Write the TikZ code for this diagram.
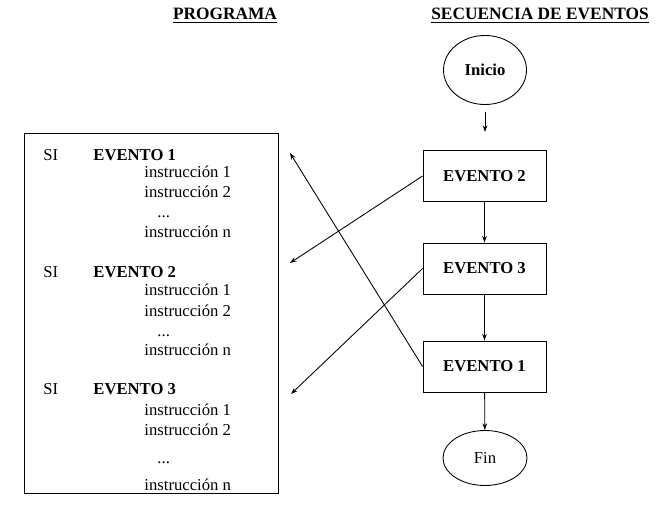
\documentclass[tikz,border=0pt]{standalone}
\usepackage{fontspec}
\setmainfont{Liberation Serif}
\usetikzlibrary{arrows.meta, shapes.geometric}

\begin{document}
\begin{tikzpicture}[x=0.75pt, y=-0.75pt, line width=0.65pt,
    >={Stealth[length=5pt, width=3.5pt]},
    font=\fontsize{12.5}{14}\selectfont,
    evento/.style={rectangle, draw, minimum width=92.25pt, minimum height=38.25pt, font=\fontsize{12.5}{14}\selectfont\bfseries},
    extremo/.style={ellipse, draw, inner sep=0pt},
    linea/.style={anchor=base west, inner sep=0pt}]
  \useasboundingbox (0,0) rectangle (657,506);
  % titulos
  \node[anchor=base, font=\fontsize{13}{15}\selectfont] (programa) at (225,20) {\textbf{\underline{PROGRAMA}}};
  \node[anchor=base, font=\fontsize{13}{15}\selectfont] (secuencia) at (540,20) {\textbf{\underline{SECUENCIA DE EVENTOS}}};
  % programa
  \node[draw, minimum width=190.5pt, minimum height=270pt] (prog) at (151,313) {};
  \node[linea] (si1) at (43,161) {SI};
  \node[linea] (ev1) at (93,161) {\textbf{EVENTO 1}};
  \node[linea] (i11) at (144,178) {instrucción 1};
  \node[linea] (i12) at (144,198) {instrucción 2};
  \node[linea] (p1) at (157,218) {...};
  \node[linea] (i1n) at (144,238) {instrucción n};
  \node[linea] (si2) at (43,277) {SI};
  \node[linea] (ev2) at (93,277) {\textbf{EVENTO 2}};
  \node[linea] (i21) at (144,296) {instrucción 1};
  \node[linea] (i22) at (144,316) {instrucción 2};
  \node[linea] (p2) at (157,336) {...};
  \node[linea] (i2n) at (144,355) {instrucción n};
  \node[linea] (si3) at (43,394) {SI};
  \node[linea] (ev3) at (93,394) {\textbf{EVENTO 3}};
  \node[linea] (i31) at (144,415) {instrucción 1};
  \node[linea] (i32) at (144,435) {instrucción 2};
  \node[linea] (p3) at (157,463) {...};
  \node[linea] (i3n) at (144,490) {instrucción n};
  % secuencia
  \node[extremo, minimum width=62.25pt, minimum height=51.75pt, font=\fontsize{12.5}{14}\selectfont\bfseries] (inicio) at (485,70) {Inicio};
  \node[evento] (E2) at (484.5,176) {EVENTO 2};
  \node[evento] (E3) at (484.5,268.5) {EVENTO 3};
  \node[evento] (E1) at (484.5,366.5) {EVENTO 1};
  \node[extremo, minimum width=63pt, minimum height=41.25pt] (fin) at (485,458) {Fin};
  \coordinate (s1) at (485,112);
  \coordinate (s2) at (485,132);
  \coordinate (d1) at (290,153);
  \coordinate (d2) at (290,263);
  \coordinate (d3) at (291,394);
  \draw[->] (s1) -- (s2);
  \draw[->] (E2) -- (E3);
  \draw[->] (E3) -- (E1);
  \draw[->] (E1) -- (fin);
  \draw[->] (E2.west) -- (d2);
  \draw[->] (E3.west) -- (d3);
  \draw[->] (E1.west) -- (d1);
\end{tikzpicture}
\end{document}
